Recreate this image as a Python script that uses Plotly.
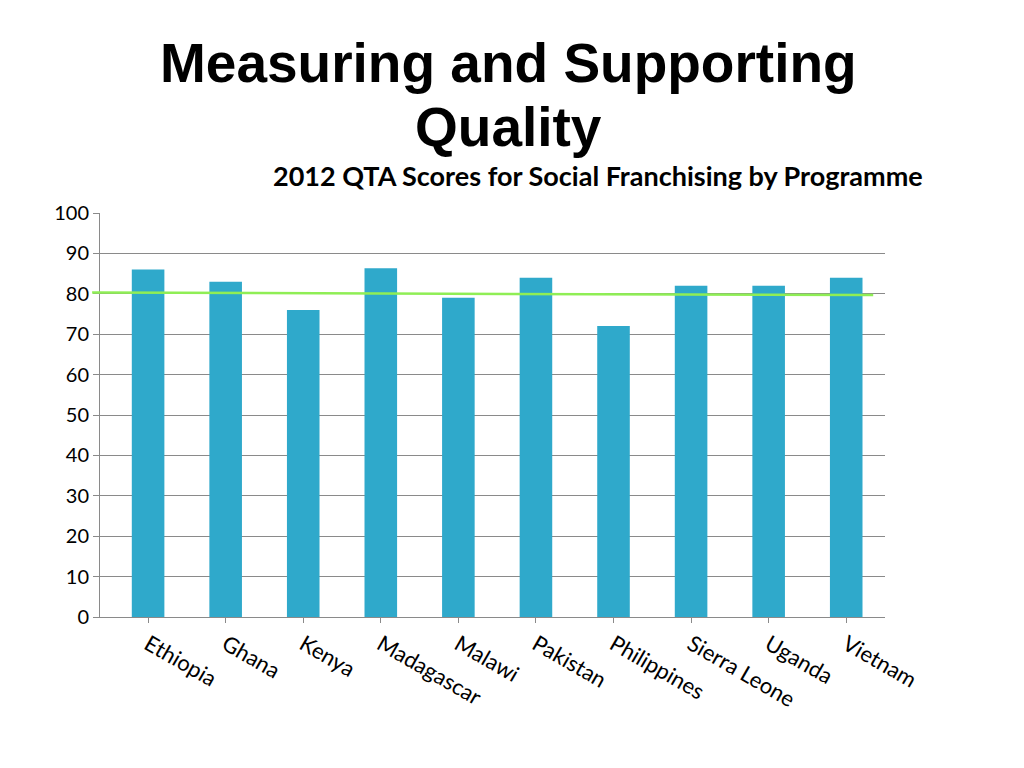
import plotly.graph_objects as go

countries = ['Ethiopia', 'Ghana', 'Kenya', 'Madagascar', 'Malawi', 'Pakistan',
             'Philippines', 'Sierra Leone', 'Uganda', 'Vietnam']
scores = [86, 83, 76, 86.3, 79, 84, 72, 82, 82, 84]
target = 80


def main():
    fig = go.Figure(go.Bar(x=countries, y=scores, width=0.42,
                           marker=dict(color='#2FA9CB', line=dict(width=0))))
    fig.add_shape(type='line', xref='paper', yref='y', x0=-0.01, x1=0.985, y0=target + 0.3,
                  y1=target - 0.3, line=dict(color='#8FEE55', width=2.5))
    title_font = dict(family='Liberation Sans, Arial', size=55)
    fig.update_layout(
        width=1024, height=768, paper_bgcolor='white', plot_bgcolor='white',
        margin=dict(l=92, r=147, t=205, b=159),
        showlegend=False,
        font=dict(family='Lato, Open Sans, sans-serif', size=20, color='black'),
        annotations=[
            dict(text='<b>Measuring and Supporting</b>', xref='paper', yref='paper',
                 x=0.52, y=1.372, showarrow=False, font=title_font,
                 xanchor='center', yanchor='middle'),
            dict(text='<b>Quality</b>', xref='paper', yref='paper',
                 x=0.52, y=1.212, showarrow=False, font=title_font,
                 xanchor='center', yanchor='middle'),
            dict(text='<b>2012 QTA Scores for Social Franchising by Programme</b>', xref='paper',
                 yref='paper', x=0.635, y=1.094, showarrow=False, font=dict(size=27),
                 xanchor='center', yanchor='middle'),
        ],
    )
    fig.update_yaxes(range=[0, 100], dtick=10, showgrid=True, gridcolor='#8a8a8a', gridwidth=1,
                     zeroline=False, showline=True, linecolor='#8a8a8a', ticks='outside',
                     ticklen=6, tickcolor='#8a8a8a')
    fig.update_xaxes(range=[-0.62, 9.5], tickangle=30, showline=True, linecolor='#8a8a8a',
                     ticks='outside', tickcolor='#8a8a8a', tickfont=dict(size=22))
    fig.write_html('out.html')


if __name__ == '__main__':
    main()
